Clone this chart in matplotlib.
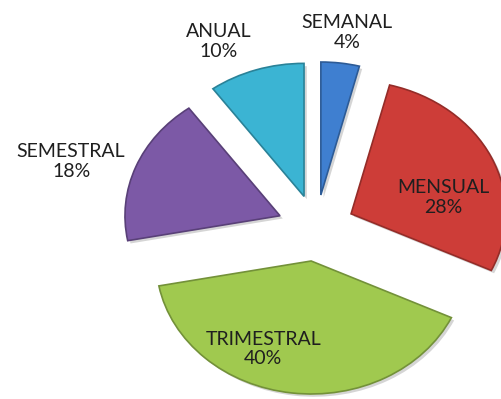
import matplotlib
matplotlib.use("Agg")
import matplotlib.pyplot as plt
import matplotlib.patheffects as pe
import matplotlib.colors as mcolors

# Frequency categories and their shares (%)
categories = ["SEMANAL", "MENSUAL", "TRIMESTRAL", "SEMESTRAL", "ANUAL"]
shares = [4, 28, 40, 18, 10]
colors = ["#3f7fd0", "#cd3d38", "#a0c94f", "#7c59a6", "#3bb4d3"]

explode = [0.25] * len(shares)

# Label anchor points (data units, pie centred at origin)
label_pos = [(0.20, 1.47), (0.82, 0.23), (-0.34, -0.91), (-1.58, 0.50), (-0.63, 1.40)]

fig = plt.figure(figsize=(5.01, 3.99), dpi=100)
ax = fig.add_axes([0, 0, 1, 1])

wedges, _ = ax.pie(shares, explode=explode, colors=colors, startangle=90,
                   counterclock=False, radius=1.0)

for w, c in zip(wedges, colors):
    rgb = mcolors.to_rgb(c)
    dark = tuple(v * 0.72 for v in rgb)
    w.set_edgecolor(dark)
    w.set_linewidth(1.2)
    w.set_path_effects([pe.SimplePatchShadow(offset=(2, -2), shadow_rgbFace="#888888", alpha=0.35),
                        pe.Normal()])

# Stretched (elliptical) pie: x unit wider than y unit
ax.set_aspect("auto")
cx_px, cy_px = 316, 228
ux, uy = 155.0, 133.0
W, H = 501, 399
ax.set_xlim(-cx_px / ux, (W - cx_px) / ux)
ax.set_ylim(-(H - cy_px) / uy, cy_px / uy)
ax.axis("off")

for name, val, (lx, ly), in zip(categories, shares, label_pos):
    ax.text(lx, ly, f"{name}\n{val}%", ha="center", va="center",
            fontsize=14, family=["Lato", "DejaVu Sans"], color="#1f1f1f",
            linespacing=1.2)

fig.savefig("out.png", dpi=100, facecolor="white")
